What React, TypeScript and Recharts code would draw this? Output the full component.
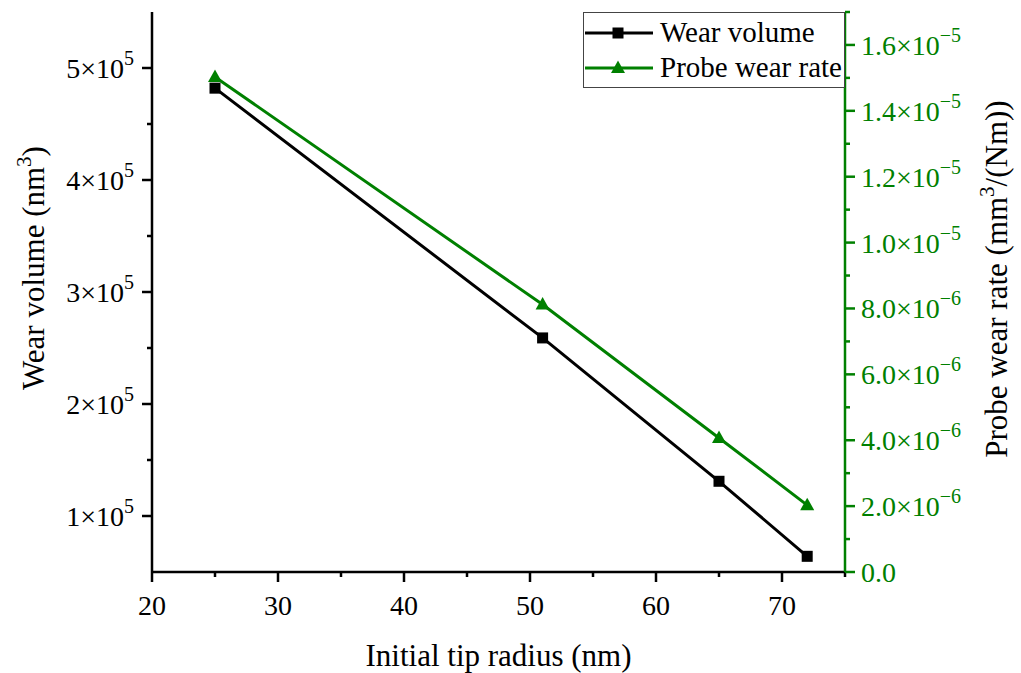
import React from 'react';
import { LineChart, Line, XAxis, YAxis, Legend } from 'recharts';

const radius = [25, 51, 65, 72];
const wearVolume = [482000, 259000, 131000, 64000];
const probeWearRate = [1.503e-5, 8.12e-6, 4.07e-6, 2.03e-6];

const seriesNames = ['Wear volume', 'Probe wear rate'];
const xTitle = 'Initial tip radius (nm)';

const xMajorTicks = [20, 30, 40, 50, 60, 70];
const xMinorTicks = [25, 35, 45, 55, 65, 75];
const leftMajorTicks = [100000, 200000, 300000, 400000, 500000];
const leftMinorTicks = [150000, 250000, 350000, 450000];
const rightMajorTicks = [0, 2e-6, 4e-6, 6e-6, 8e-6, 1e-5, 1.2e-5, 1.4e-5, 1.6e-5];
const rightMinorTicks = [1e-6, 3e-6, 5e-6, 7e-6, 9e-6, 1.1e-5, 1.3e-5, 1.5e-5, 1.7e-5];

const data = radius.map((r, i) => ({ r, wear: wearVolume[i], rate: probeWearRate[i] }));

const FONT = "'Liberation Serif', 'Times New Roman', Times, serif";
const GREEN = '#008000';
const BLACK = '#000000';
const AXW = 2.5;
const TICK_FS = 28;
const SUP_FS = 20;
const TITLE_FS = 31;

const fontStyle = (size: number): React.CSSProperties => ({ fontFamily: FONT, fontSize: size });

function sciParts(v: number, digits: number) {
  const exp = Math.floor(Math.log10(v) + 1e-9);
  const mant = v / Math.pow(10, exp);
  return { mant: mant.toFixed(digits), exp: exp < 0 ? '\u2212' + Math.abs(exp) : String(exp) };
}

const BottomTick = (props: any) => {
  const { x, y, payload } = props;
  const v = payload.value;
  const major = xMajorTicks.includes(v);
  const len = major ? 10 : 5;
  return (
    <g>
      <line x1={x} y1={y} x2={x} y2={y + len} stroke={BLACK} strokeWidth={AXW} />
      {major && (
        <text x={x} y={y + 43} textAnchor="middle" style={fontStyle(TICK_FS)} fill={BLACK}>
          {String(v)}
        </text>
      )}
    </g>
  );
};

const LeftTick = (props: any) => {
  const { x, y, payload } = props;
  const v = payload.value;
  const major = leftMajorTicks.includes(v);
  const len = major ? 10 : 5;
  const p = sciParts(v, 0);
  return (
    <g>
      <line x1={x} y1={y} x2={x - len} y2={y} stroke={BLACK} strokeWidth={AXW} />
      {major && (
        <text x={x - 18} y={y + 10} textAnchor="end" style={fontStyle(TICK_FS)} fill={BLACK}>
          {p.mant + '\u00d710'}
          <tspan dy={-13} style={{ fontSize: SUP_FS }}>{p.exp}</tspan>
        </text>
      )}
    </g>
  );
};

const RightTick = (props: any) => {
  const { x, y, payload } = props;
  const v = payload.value;
  const major = rightMajorTicks.includes(v);
  const len = major ? 10 : 5;
  let label: React.ReactNode = null;
  if (major) {
    if (v === 0) {
      label = (
        <text x={x + 16} y={y + 10} textAnchor="start" style={fontStyle(TICK_FS)} fill={GREEN}>
          0.0
        </text>
      );
    } else {
      const p = sciParts(v, 1);
      label = (
        <text x={x + 16} y={y + 10} textAnchor="start" style={fontStyle(TICK_FS)} fill={GREEN}>
          {p.mant + '\u00d710'}
          <tspan dy={-13} style={{ fontSize: SUP_FS }}>{p.exp}</tspan>
        </text>
      );
    }
  }
  return (
    <g>
      <line x1={x} y1={y} x2={x + len} y2={y} stroke={GREEN} strokeWidth={AXW} />
      {label}
    </g>
  );
};

const SquareDot = (props: any) => {
  const { cx, cy, index } = props;
  if (cx == null || cy == null) return <g key={index} />;
  return <rect key={index} x={cx - 5.5} y={cy - 5.5} width={11} height={11} fill={BLACK} />;
};

const TriangleDot = (props: any) => {
  const { cx, cy, index } = props;
  if (cx == null || cy == null) return <g key={index} />;
  return (
    <polygon
      key={index}
      points={`${cx},${cy - 7.5} ${cx - 7},${cy + 5} ${cx + 7},${cy + 5}`}
      fill={GREEN}
    />
  );
};

const LeftTitle = (props: any) => {
  const vb = props.viewBox || {};
  const cx = vb.x + 34;
  const cy = vb.y + vb.height / 2 - 24;
  return (
    <text
      x={cx}
      y={cy}
      transform={`rotate(-90, ${cx}, ${cy})`}
      textAnchor="middle"
      style={fontStyle(TITLE_FS)}
      fill={BLACK}
      dy={10}
    >
      {'Wear volume (nm'}
      <tspan dy={-13} style={{ fontSize: 21 }}>3</tspan>
      <tspan dy={13}>)</tspan>
    </text>
  );
};

const RightTitle = (props: any) => {
  const vb = props.viewBox || {};
  const cx = vb.x + 152;
  const cy = vb.y + vb.height / 2 - 13;
  return (
    <text
      x={cx}
      y={cy}
      transform={`rotate(-90, ${cx}, ${cy})`}
      textAnchor="middle"
      style={fontStyle(TITLE_FS)}
      fill={BLACK}
      dy={10}
    >
      {'Probe wear rate (mm'}
      <tspan dy={-13} style={{ fontSize: 21 }}>3</tspan>
      <tspan dy={13}>{'/(Nm))'}</tspan>
    </text>
  );
};

const BottomTitle = (props: any) => {
  const vb = props.viewBox || {};
  return (
    <text
      x={vb.x + vb.width / 2}
      y={vb.y + 94}
      textAnchor="middle"
      style={fontStyle(TITLE_FS)}
      fill={BLACK}
    >
      {xTitle}
    </text>
  );
};

const LegendBox = (props: any) => {
  const payload: any[] = props.payload || [];
  const entries = seriesNames.map((name) => payload.find((p: any) => p.value === name)).filter(Boolean);
  return (
    <div style={{ width: 262, height: 76, boxSizing: 'border-box', border: '1px solid #444', background: '#fff' }}>
      <svg width={260} height={74} style={{ display: 'block' }}>
        {entries.map((entry: any, i: number) => {
          const cy = 20 + i * 35;
          const color = entry.color;
          return (
            <g key={i}>
              <line x1={1} y1={cy} x2={69} y2={cy} stroke={color} strokeWidth={3} />
              {i === 0 ? (
                <rect x={34 - 5.5} y={cy - 5.5} width={11} height={11} fill={color} />
              ) : (
                <polygon points={`${34},${cy - 7.5} ${27},${cy + 5} ${41},${cy + 5}`} fill={color} />
              )}
              <text x={76} y={cy + 9} style={fontStyle(29)} fill={BLACK}>
                {entry.value}
              </text>
            </g>
          );
        })}
      </svg>
    </div>
  );
};

export default function App() {
  return (
    <div style={{ position: 'absolute', left: 0, top: 0, background: '#fff', fontFamily: FONT }}>
      <LineChart width={1021} height={673} data={data} margin={{ top: 12, right: 0, bottom: 0, left: 0 }}>
        <XAxis
          xAxisId="top"
          orientation="top"
          type="number"
          dataKey="r"
          domain={[20, 75]}
          height={0}
          tick={false}
          tickLine={false}
          axisLine={{ stroke: BLACK, strokeWidth: AXW }}
        />
        <XAxis
          dataKey="r"
          type="number"
          domain={[20, 75]}
          ticks={[...xMajorTicks, ...xMinorTicks]}
          interval={0}
          height={101}
          tickSize={0}
          tickMargin={0}
          tickLine={false}
          tick={<BottomTick />}
          axisLine={{ stroke: BLACK, strokeWidth: AXW }}
          label={<BottomTitle />}
        />
        <YAxis
          yAxisId="left"
          orientation="left"
          type="number"
          domain={[50000, 550000]}
          ticks={[...leftMajorTicks, ...leftMinorTicks]}
          interval={0}
          width={152}
          tickSize={0}
          tickMargin={0}
          tickLine={false}
          tick={<LeftTick />}
          axisLine={{ stroke: BLACK, strokeWidth: AXW }}
          label={<LeftTitle />}
        />
        <YAxis
          yAxisId="right"
          orientation="right"
          type="number"
          domain={[0, 1.7e-5]}
          ticks={[...rightMajorTicks, ...rightMinorTicks]}
          interval={0}
          width={176}
          tickSize={0}
          tickMargin={0}
          tickLine={false}
          tick={<RightTick />}
          axisLine={{ stroke: GREEN, strokeWidth: AXW }}
          label={<RightTitle />}
        />
        <Legend
          layout="vertical"
          align="center"
          verticalAlign="middle"
          content={<LegendBox />}
          wrapperStyle={{ left: 583, top: 12, width: 262, height: 76 }}
        />
        <Line
          yAxisId="left"
          type="linear"
          dataKey="wear"
          name={seriesNames[0]}
          stroke={BLACK}
          strokeWidth={3}
          dot={<SquareDot />}
          activeDot={false}
          isAnimationActive={false}
        />
        <Line
          yAxisId="right"
          type="linear"
          dataKey="rate"
          name={seriesNames[1]}
          stroke={GREEN}
          strokeWidth={3}
          dot={<TriangleDot />}
          activeDot={false}
          isAnimationActive={false}
        />
      </LineChart>
    </div>
  );
}
